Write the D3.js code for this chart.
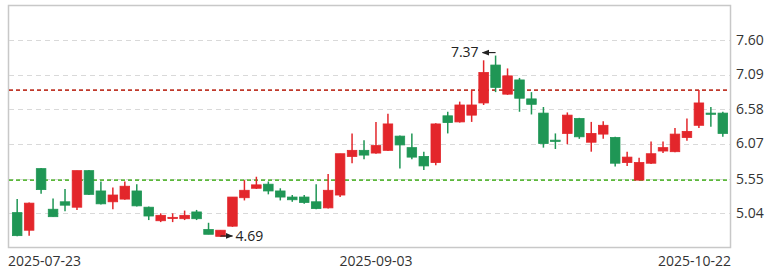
<!DOCTYPE html>
<html><head><meta charset="utf-8">
<script src="https://cdn.jsdelivr.net/npm/d3@7"></script>
<style>
html,body{margin:0;padding:0;background:#fff;}
svg{display:block;font-family:"Open Sans","Noto Sans",sans-serif;}
</style></head>
<body><svg id="c" width="768" height="273"></svg>
<script>
const dates = ["2025-07-23","2025-07-24","2025-07-25","2025-07-28","2025-07-29","2025-07-30","2025-07-31","2025-08-01",
"2025-08-04","2025-08-05","2025-08-06","2025-08-07","2025-08-08","2025-08-11","2025-08-12","2025-08-13","2025-08-14","2025-08-15",
"2025-08-18","2025-08-19","2025-08-20","2025-08-21","2025-08-22","2025-08-25","2025-08-26","2025-08-27","2025-08-28","2025-08-29",
"2025-09-01","2025-09-02","2025-09-03","2025-09-04","2025-09-05","2025-09-08","2025-09-09","2025-09-10","2025-09-11","2025-09-12",
"2025-09-15","2025-09-16","2025-09-17","2025-09-18","2025-09-19","2025-09-22","2025-09-23","2025-09-24","2025-09-25","2025-09-26",
"2025-09-29","2025-09-30","2025-10-09","2025-10-10","2025-10-13","2025-10-14","2025-10-15","2025-10-16","2025-10-17",
"2025-10-20","2025-10-21","2025-10-22"];
const open  = [5.05,4.79,5.70,5.10,5.21,5.13,5.67,5.37,5.21,5.25,5.37,5.13,4.93,4.97,4.96,5.06,4.80,4.70,4.85,5.27,
               5.41,5.47,5.37,5.28,5.28,5.21,5.12,5.31,5.88,5.97,5.93,5.97,6.18,6.01,5.88,5.79,6.48,6.39,6.49,6.67,
               7.23,6.80,7.01,6.73,6.52,6.12,6.22,6.44,6.09,6.21,6.16,5.79,5.53,5.78,5.96,5.95,6.16,6.34,6.52,6.52];
const close = [4.71,5.19,5.39,4.99,5.16,5.67,5.32,5.18,5.31,5.44,5.15,5.00,5.01,4.98,5.01,4.96,4.73,4.79,5.28,5.38,
               5.46,5.37,5.28,5.24,5.20,5.11,5.38,5.92,5.97,5.90,6.04,6.36,6.05,5.87,5.74,6.36,6.38,6.64,6.64,7.12,
               6.90,7.07,6.74,6.65,6.07,6.11,6.49,6.17,6.22,6.34,5.78,5.87,5.79,5.92,6.01,6.21,6.25,6.67,6.51,6.22];
const high  = [5.25,5.20,5.71,5.26,5.40,5.67,5.68,5.51,5.42,5.51,5.47,5.14,5.04,5.04,5.08,5.09,4.90,4.79,5.28,5.53,
               5.58,5.51,5.41,5.31,5.31,5.47,5.62,5.92,6.22,6.12,6.39,6.51,6.19,6.22,5.95,6.37,6.54,6.69,6.86,7.30,
               7.37,7.18,7.04,6.83,6.61,6.22,6.53,6.45,6.39,6.40,6.17,5.95,5.86,6.10,6.10,6.30,6.44,6.86,6.61,6.54];
const low   = [4.70,4.71,5.33,4.99,5.07,5.09,5.31,5.17,5.10,5.24,5.14,4.94,4.91,4.91,4.94,4.94,4.73,4.69,4.84,5.23,
               5.40,5.32,5.23,5.21,5.18,5.10,5.11,5.28,5.78,5.84,5.92,5.96,5.70,5.84,5.68,5.75,6.22,6.38,6.39,6.64,
               6.83,6.79,6.54,6.50,6.01,5.99,6.06,6.14,5.95,6.14,5.73,5.74,5.53,5.77,5.93,5.94,6.11,6.30,6.32,6.17];
const tickValues = [7.60,7.09,6.58,6.07,5.55,5.04];
const tickLabels = ["7.60","7.09","6.58","6.07","5.55","5.04"];
const resistance = 6.86;
const support = 5.53;
const xLabelIdx = [0,30,59];

const svg = d3.select("#c");
const L = 8, R = 730, T = 5, B = 247;
const RED = "#e3262b", GREEN = "#1f9655";

const x = d3.scaleBand().domain(d3.range(dates.length)).range([10, 730]).padding(0.2);
const y = d3.scaleLinear().domain([5.04, 7.60]).range([213.3, 40]);
const cx = i => x(i) + x.bandwidth() / 2;

// frame
svg.append("rect").attr("x", L + 0.5).attr("y", T + 0.5).attr("width", R - L).attr("height", B - T)
  .attr("fill", "none").attr("stroke", "#c8c8c8").attr("stroke-width", 1.5);

// grid
svg.append("g").selectAll("line").data(tickValues).join("line")
  .attr("x1", L + 1).attr("x2", R).attr("y1", d => Math.round(y(d)) + 0.5).attr("y2", d => Math.round(y(d)) + 0.5)
  .attr("stroke", "#d9d9d9").attr("stroke-dasharray", "5,4");

// y labels
svg.append("g").selectAll("text").data(tickValues).join("text")
  .attr("x", 736).attr("y", d => y(d)).attr("dy", "0.35em")
  .attr("font-size", 14).attr("fill", "#333").text((d, i) => tickLabels[i]);

// support / resistance
svg.append("line").attr("x1", L + 1).attr("x2", R).attr("y1", y(resistance)).attr("y2", y(resistance))
  .attr("stroke", "#c0392b").attr("stroke-width", 1.6).attr("stroke-dasharray", "4,3");
svg.append("line").attr("x1", L + 1).attr("x2", R).attr("y1", y(support)).attr("y2", y(support))
  .attr("stroke", "#5cb83c").attr("stroke-width", 1.6).attr("stroke-dasharray", "4,3");

// candles
const idx = d3.range(dates.length);
const g = svg.append("g");
const col = i => close[i] >= open[i] ? RED : GREEN;
g.selectAll("line.w").data(idx).join("line").attr("class", "w")
  .attr("x1", cx).attr("x2", cx).attr("y1", i => y(high[i])).attr("y2", i => y(low[i]))
  .attr("stroke", col).attr("stroke-width", 1.5);
g.selectAll("rect.b").data(idx).join("rect").attr("class", "b")
  .attr("x", i => x(i)).attr("width", x.bandwidth())
  .attr("y", i => y(Math.max(open[i], close[i])))
  .attr("height", i => Math.max(1.2, Math.abs(y(open[i]) - y(close[i]))))
  .attr("fill", col).attr("stroke", col).attr("stroke-width", 0.8);

// max / min annotations
const maxI = d3.maxIndex(high), minI = d3.minIndex(low);
svg.append("defs").append("marker").attr("id", "ah").attr("viewBox", "0 0 10 10")
  .attr("refX", 9).attr("refY", 5).attr("markerWidth", 6).attr("markerHeight", 6).attr("orient", "auto-start-reverse")
  .append("path").attr("d", "M0,1 L10,5 L0,9 z").attr("fill", "#222");
const yMax = y(high[maxI]) - 3;
svg.append("line").attr("x1", cx(maxI)).attr("x2", cx(maxI) - 13).attr("y1", yMax).attr("y2", yMax)
  .attr("stroke", "#222").attr("stroke-width", 1.2).attr("marker-end", "url(#ah)");
svg.append("text").attr("x", cx(maxI) - 17).attr("y", yMax).attr("dy", "0.35em").attr("text-anchor", "end")
  .attr("font-size", 14).attr("fill", "#222").text(d3.format(".2f")(high[maxI]));
const yMin = y(low[minI]) - 1;
svg.append("line").attr("x1", cx(minI)).attr("x2", cx(minI) + 12).attr("y1", yMin).attr("y2", yMin)
  .attr("stroke", "#222").attr("stroke-width", 1.2).attr("marker-end", "url(#ah)");
svg.append("text").attr("x", cx(minI) + 15).attr("y", yMin).attr("dy", "0.35em")
  .attr("font-size", 14).attr("fill", "#222").text(d3.format(".2f")(low[minI]));

// x labels
svg.append("g").selectAll("text").data(xLabelIdx).join("text")
  .attr("x", (d, k) => k === 0 ? L : (k === xLabelIdx.length - 1 ? R + 1 : cx(d)))
  .attr("text-anchor", (d, k) => k === 0 ? "start" : (k === xLabelIdx.length - 1 ? "end" : "middle"))
  .attr("y", 261).attr("dy", "0.35em").attr("font-size", 14).attr("fill", "#333")
  .text(d => dates[d]);
</script></body></html>
